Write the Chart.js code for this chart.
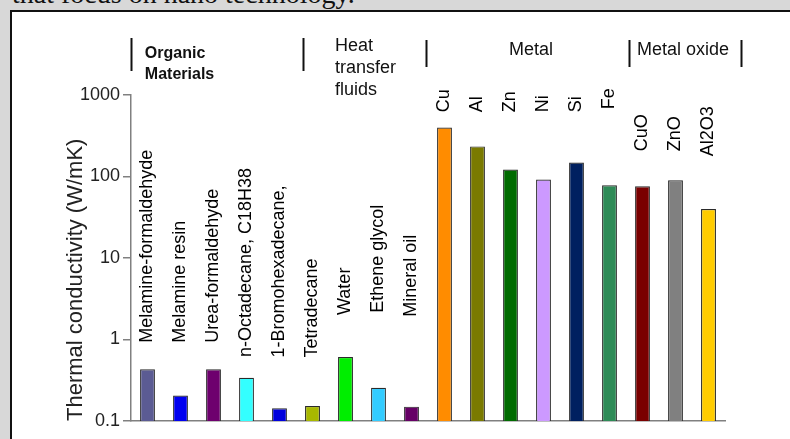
<!DOCTYPE html>
<html>
<head>
<meta charset="utf-8">
<script src="https://cdn.jsdelivr.net/npm/chart.js@4.4.1/dist/chart.umd.min.js"></script>
<style>
  html, body { margin: 0; padding: 0; }
  body { width: 790px; height: 439px; background: #d8d8d8; position: relative; overflow: hidden; }
  #toptext { position: absolute; left: 12px; top: -20px; font: 28px/28px "Liberation Serif", serif; color: #111; white-space: nowrap; }
  #page { position: absolute; left: 10px; top: 10px; right: 0; bottom: 0; background: #fff; border-left: 2px solid #111; border-top: 2px solid #111; }
  #wrap { position: absolute; left: 0; top: 0; width: 790px; height: 439px; }
</style>
</head>
<body>
<div id="toptext">that focus on nano technology.</div>
<div id="page"></div>
<div id="wrap"><canvas id="myChart" width="790" height="439"></canvas></div>
<script>
var materials = ["Melamine-formaldehyde", "Melamine resin", "Urea-formaldehyde", "n-Octadecane, C18H38",
  "1-Bromohexadecane,", "Tetradecane", "Water", "Ethene glycol", "Mineral oil",
  "Cu", "Al", "Zn", "Ni", "Si", "Fe", "CuO", "ZnO", "Al2O3"];
var conductivity = [0.43, 0.205, 0.43, 0.34, 0.143, 0.153, 0.61, 0.255, 0.15,
  398, 234, 122, 92, 148, 78, 76, 90, 40];
var barColors = ['#5b5b93', '#0000f0', '#6e006e', '#33ffff', '#0000dd', '#a8b800', '#00ee00', '#33ccff', '#660066',
  '#ff8c00', '#7a7a00', '#006b00', '#cc99ff', '#002060', '#2e8b57', '#7a0000', '#808080', '#ffcc00'];
var yTicks = [0.1, 1, 10, 100, 1000];
// where each rotated name starts, in axis units
var labelAt = [0.91, 0.91, 0.91, 0.61, 0.60, 0.60, 2.0, 2.13, 1.9,
  614, 614, 614, 614, 614, 669, 204, 204, 177];

// group headers, x in category units
var dividers = [-0.515, 4.7, 8.45, 14.6, 18.0];

var headerPlugin = {
  id: 'headers',
  afterDatasetsDraw: function(chart) {
    var ctx = chart.ctx, xs = chart.scales.x, ys = chart.scales.y;
    var top = chart.chartArea.top;
    ctx.save();
    // names above bars
    ctx.fillStyle = '#000';
    ctx.font = '18px "Liberation Sans", Arial, sans-serif';
    ctx.textAlign = 'left';
    ctx.textBaseline = 'middle';
    materials.forEach(function(name, i) {
      ctx.save();
      ctx.translate(xs.getPixelForValue(i), ys.getPixelForValue(labelAt[i]));
      ctx.rotate(-Math.PI / 2);
      ctx.fillText(name, 0, 0);
      ctx.restore();
    });
    // divider bars
    ctx.strokeStyle = '#111';
    ctx.lineWidth = 2;
    dividers.forEach(function(d, k) {
      var x = Math.round(xs.getPixelForValue(d)) + 0.5;
      ctx.beginPath();
      if (k < 2) { ctx.moveTo(x, top - 57); ctx.lineTo(x, top - 24); }
      else { ctx.moveTo(x, top - 55); ctx.lineTo(x, top - 28); }
      ctx.stroke();
    });
    ctx.fillStyle = '#111';
    ctx.textBaseline = 'middle';
    ctx.font = 'bold 16px "Liberation Sans", Arial, sans-serif';
    var xo = xs.getPixelForValue(-0.08);
    ctx.fillText('Organic', xo, top - 41);
    ctx.fillText('Materials', xo, top - 20);
    ctx.font = '18px "Liberation Sans", Arial, sans-serif';
    var xh = xs.getPixelForValue(5.68);
    ctx.fillText('Heat', xh, top - 49);
    ctx.fillText('transfer', xh, top - 27);
    ctx.fillText('fluids', xh, top - 5);
    ctx.textAlign = 'center';
    ctx.fillText('Metal', xs.getPixelForValue(11.62), top - 45);
    ctx.textAlign = 'left';
    ctx.fillText('Metal oxide', xs.getPixelForValue(14.83), top - 45);
    ctx.restore();
  }
};

var chart = new Chart('myChart', {
  type: 'bar',
  data: {
    labels: materials,
    datasets: [{
      data: conductivity,
      backgroundColor: barColors,
      borderColor: '#2a2a2a',
      borderWidth: 1.2,
      barPercentage: 0.9,
      categoryPercentage: 0.5
    }]
  },
  options: {
    responsive: false,
    animation: false,
    devicePixelRatio: 1,
    layout: { padding: { left: 60, right: 65, top: 95, bottom: 18 } },
    plugins: { legend: { display: false }, tooltip: { enabled: false } },
    scales: {
      x: {
        grid: { display: false },
        ticks: { display: false },
        border: { display: true, color: '#808080', width: 1.5 },
        afterFit: function(s) { s.height = 0; }
      },
      y: {
        type: 'logarithmic',
        min: 0.1,
        max: 1000,
        afterBuildTicks: function(s) { s.ticks = yTicks.map(function(v) { return { value: v }; }); },
        afterFit: function(s) { s.width = 71; },
        ticks: {
          color: '#222',
          padding: 3,
          font: { family: '"Liberation Sans", Arial, sans-serif', size: 18 },
          callback: function(v) { return String(v); }
        },
        grid: { drawOnChartArea: false, drawTicks: true, tickLength: 8, tickColor: '#808080', lineWidth: 1.5 },
        border: { display: true, color: '#808080', width: 1.5 },
        title: {
          display: true,
          text: 'Thermal conductivity (W/mK)',
          align: 'start',
          color: '#222',
          padding: { top: 3, bottom: 0 },
          font: { family: '"Liberation Sans", Arial, sans-serif', size: 22 }
        }
      }
    }
  },
  plugins: [headerPlugin]
});
</script>
</body>
</html>
